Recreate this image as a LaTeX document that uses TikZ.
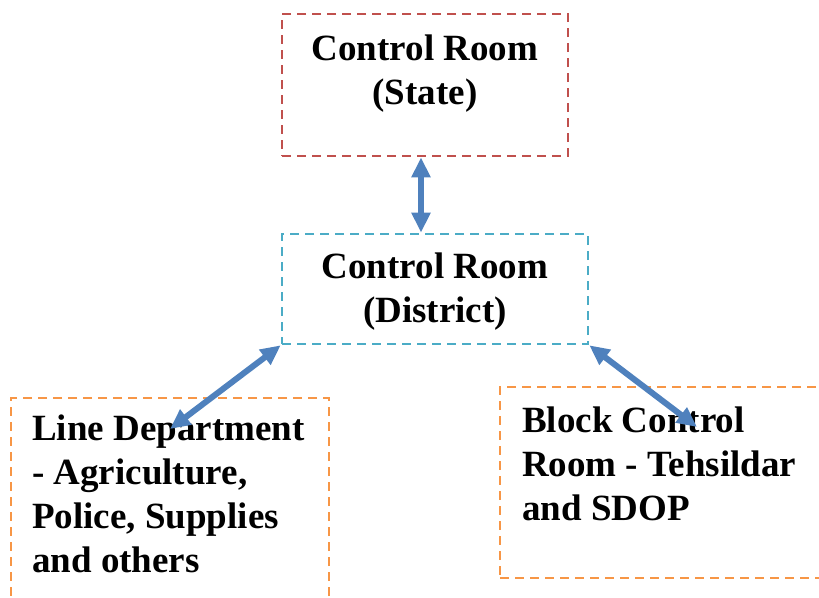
\documentclass[tikz,border=0pt]{standalone}
\usepackage{fontspec}
\setmainfont{Liberation Serif}
\usetikzlibrary{arrows.meta}
\definecolor{boxred}{HTML}{C0504D}
\definecolor{boxcyan}{HTML}{4BACC6}
\definecolor{boxorange}{HTML}{F79646}
\definecolor{arrowblue}{HTML}{4F81BD}
\begin{document}
\begin{tikzpicture}[x=1pt,y=-1pt,
  box/.style={draw, line width=2.6pt, dash pattern=on 9pt off 6pt, minimum width=#1, inner sep=0pt},
  lbl/.style={font=\bfseries\fontsize{37}{44}\selectfont, inner sep=0pt},
  link/.style={arrowblue, line width=6pt, {Triangle[width=18pt,length=20pt]}-{Triangle[width=18pt,length=20pt]}}]
\useasboundingbox (0,0) rectangle (819,597);
\clip (0,0) rectangle (819,597);
\node[box=286pt, boxred, minimum height=142pt] (state) at (425,85) {};
\node[box=306pt, boxcyan, minimum height=110pt] (dist) at (435,289) {};
\node[box=318pt, boxorange, minimum height=240pt] (line) at (170,518) {};
\node[box=340pt, boxorange, minimum height=191pt] (block) at (670,482.5) {};
\node[lbl, align=center, anchor=base] (statetxt) at (425,104) {Control Room\\(State)};
\node[lbl, align=center, anchor=base] (disttxt) at (435,322) {Control Room\\(District)};
\node[lbl, align=left, anchor=base west] (linetxt) at (32,572) {Line Department\\- Agriculture,\\Police, Supplies\\and others};
\node[lbl, align=left, anchor=base west] (blocktxt) at (522,520) {Block Control\\Room - Tehsildar\\and SDOP};
\coordinate (lineend) at (170,429);
\coordinate (blockend) at (697,427);
\draw[link] ([xshift=-4pt]state.south) -- ([xshift=-14pt]dist.north);
\draw[link] (dist.south west) -- (lineend);
\draw[link] (dist.south east) -- (blockend);
\end{tikzpicture}
\end{document}
